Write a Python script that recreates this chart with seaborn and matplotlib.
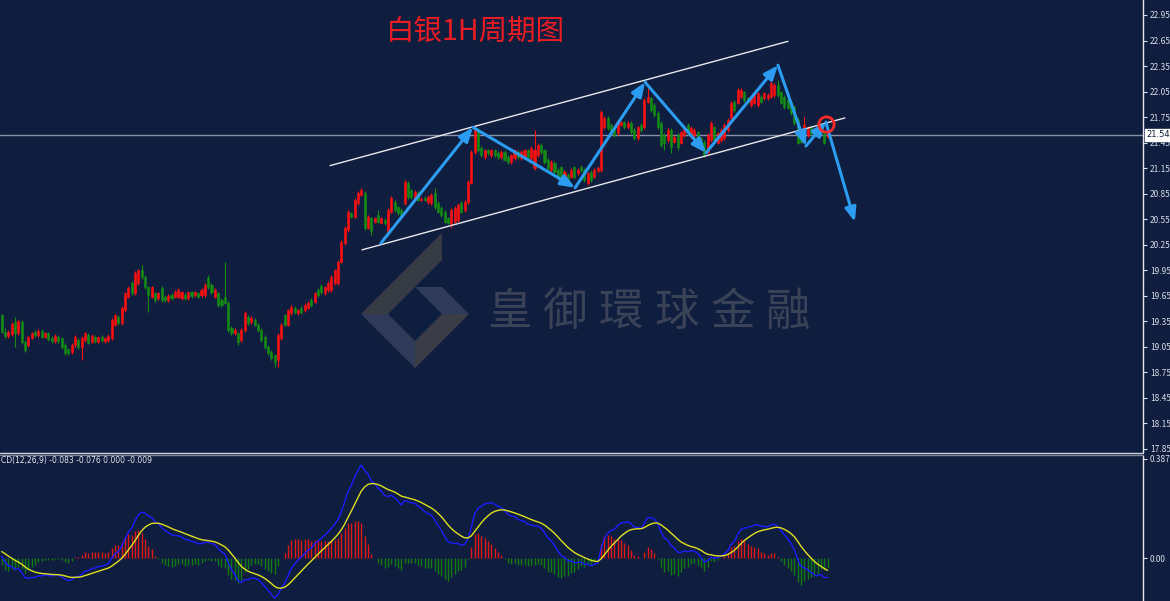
import numpy as np
import pandas as pd
import matplotlib
matplotlib.use("Agg")
import matplotlib.pyplot as plt
import seaborn as sns
from matplotlib.patches import Polygon
from matplotlib.lines import Line2D

# ---------------- data (silver, 1H candles) ----------------
opens = [
    19.42, 19.23, 19.18, 19.20, 19.34, 19.21, 19.34, 19.11, 19.07, 19.15,
    19.23, 19.19, 19.24, 19.17, 19.21, 19.15, 19.12, 19.17, 19.15, 19.07,
    19.02, 18.99, 19.07, 19.13, 19.05, 19.13, 19.19, 19.11, 19.17, 19.11,
    19.17, 19.12, 19.13, 19.15, 19.31, 19.40, 19.33, 19.48, 19.64, 19.80,
    19.68, 19.80, 19.95, 19.87, 19.75, 19.64, 19.68, 19.62, 19.74, 19.64,
    19.60, 19.66, 19.64, 19.64, 19.62, 19.66, 19.62, 19.69, 19.66, 19.68,
    19.66, 19.66, 19.86, 19.78, 19.64, 19.68, 19.60, 19.64, 19.57, 19.27,
    19.21, 19.21, 19.13, 19.25, 19.40, 19.34, 19.37, 19.31, 19.25, 19.17,
    19.05, 18.99, 18.95, 18.90, 19.15, 19.42, 19.31, 19.45, 19.51, 19.45,
    19.51, 19.48, 19.51, 19.60, 19.58, 19.72, 19.77, 19.68, 19.72, 19.72,
    19.80, 19.80, 20.05, 20.27, 20.42, 20.62, 20.58, 20.74, 20.84, 20.86,
    20.45, 20.56, 20.52, 20.60, 20.51, 20.54, 20.39, 20.64, 20.75, 20.69,
    20.66, 20.74, 20.98, 20.89, 20.80, 20.86, 20.78, 20.80, 20.75, 20.74,
    20.86, 20.74, 20.68, 20.64, 20.56, 20.48, 20.52, 20.54, 20.74, 20.66,
    20.75, 20.98, 21.34, 21.60, 21.39, 21.28, 21.36, 21.30, 21.36, 21.33,
    21.28, 21.34, 21.28, 21.22, 21.27, 21.34, 21.27, 21.28, 21.36, 21.27,
    21.15, 21.30, 21.42, 21.36, 21.25, 21.13, 21.21, 21.13, 21.16, 21.01,
    21.07, 21.05, 21.16, 21.09, 21.16, 21.13, 20.98, 21.11, 21.05, 21.12,
    21.13, 21.63, 21.74, 21.66, 21.62, 21.56, 21.66, 21.69, 21.63, 21.68,
    21.60, 21.50, 21.66, 21.63, 21.93, 21.97, 21.89, 21.80, 21.68, 21.54,
    21.48, 21.60, 21.46, 21.54, 21.45, 21.54, 21.66, 21.52, 21.54, 21.57,
    21.50, 21.46, 21.34, 21.48, 21.63, 21.45, 21.48, 21.50, 21.60, 21.74,
    21.93, 21.92, 21.99, 22.04, 21.97, 21.89, 21.92, 21.89, 21.99, 21.97,
    21.97, 21.99, 22.01, 22.13, 22.04, 21.99, 21.95, 21.93, 21.87, 21.72,
    21.56, 21.48, 21.54, 21.62, 21.60, 21.62, 21.57, 21.57, 21.52,
]
closes = [
    19.23, 19.18, 19.23, 19.32, 19.21, 19.35, 19.11, 19.01, 19.17, 19.21,
    19.19, 19.24, 19.17, 19.21, 19.14, 19.12, 19.18, 19.12, 19.05, 18.98,
    18.98, 19.07, 19.17, 19.05, 19.15, 19.21, 19.10, 19.18, 19.12, 19.17,
    19.13, 19.15, 19.18, 19.37, 19.42, 19.33, 19.51, 19.68, 19.74, 19.68,
    19.92, 19.95, 19.87, 19.75, 19.66, 19.75, 19.60, 19.68, 19.60, 19.60,
    19.65, 19.62, 19.69, 19.72, 19.69, 19.62, 19.69, 19.65, 19.69, 19.64,
    19.72, 19.78, 19.75, 19.69, 19.72, 19.54, 19.54, 19.57, 19.25, 19.21,
    19.25, 19.11, 19.25, 19.45, 19.33, 19.39, 19.31, 19.25, 19.13, 19.05,
    18.98, 18.92, 18.87, 19.19, 19.31, 19.31, 19.48, 19.52, 19.46, 19.48,
    19.46, 19.54, 19.57, 19.54, 19.68, 19.66, 19.69, 19.75, 19.80, 19.87,
    19.95, 20.05, 20.28, 20.45, 20.64, 20.58, 20.78, 20.86, 20.89, 20.45,
    20.58, 20.41, 20.56, 20.52, 20.56, 20.51, 20.66, 20.80, 20.66, 20.62,
    20.60, 20.99, 20.81, 20.81, 20.87, 20.78, 20.79, 20.78, 20.81, 20.84,
    20.69, 20.64, 20.60, 20.52, 20.51, 20.66, 20.68, 20.72, 20.64, 20.75,
    20.99, 21.34, 21.62, 21.36, 21.30, 21.36, 21.33, 21.36, 21.30, 21.28,
    21.34, 21.25, 21.22, 21.30, 21.36, 21.28, 21.34, 21.36, 21.28, 21.39,
    21.36, 21.42, 21.34, 21.22, 21.15, 21.22, 21.11, 21.03, 21.01, 21.11,
    21.01, 21.13, 21.05, 21.13, 21.13, 21.01, 21.09, 21.01, 21.13, 21.15,
    21.81, 21.74, 21.62, 21.57, 21.54, 21.69, 21.69, 21.63, 21.68, 21.57,
    21.50, 21.63, 21.60, 21.95, 21.99, 21.83, 21.77, 21.63, 21.42, 21.45,
    21.60, 21.40, 21.52, 21.40, 21.57, 21.63, 21.56, 21.62, 21.60, 21.48,
    21.40, 21.30, 21.54, 21.68, 21.48, 21.56, 21.60, 21.66, 21.72, 21.92,
    21.83, 22.07, 22.07, 21.95, 21.93, 21.99, 22.03, 22.03, 21.93, 22.03,
    22.01, 22.15, 22.13, 22.01, 21.92, 21.87, 21.86, 21.80, 21.68, 21.45,
    21.46, 21.66, 21.62, 21.56, 21.54, 21.56, 21.66, 21.45, 21.56,
]
highs = [
    19.44, 19.27, 19.25, 19.34, 19.40, 19.37, 19.36, 19.13, 19.18, 19.23,
    19.25, 19.26, 19.26, 19.23, 19.23, 19.18, 19.20, 19.19, 19.17, 19.09,
    19.04, 19.09, 19.19, 19.15, 19.18, 19.23, 19.21, 19.20, 19.19, 19.18,
    19.19, 19.17, 19.20, 19.39, 19.44, 19.42, 19.53, 19.70, 19.76, 19.82,
    19.94, 19.97, 20.01, 19.89, 19.77, 19.77, 19.70, 19.70, 19.76, 19.66,
    19.67, 19.68, 19.72, 19.74, 19.71, 19.68, 19.71, 19.71, 19.71, 19.70,
    19.74, 19.80, 19.90, 19.80, 19.74, 19.70, 19.62, 20.05, 19.59, 19.29,
    19.27, 19.23, 19.27, 19.47, 19.42, 19.41, 19.39, 19.33, 19.27, 19.19,
    19.07, 19.01, 18.97, 19.21, 19.33, 19.44, 19.50, 19.54, 19.53, 19.50,
    19.53, 19.56, 19.59, 19.62, 19.70, 19.74, 19.79, 19.77, 19.82, 19.89,
    19.97, 20.07, 20.30, 20.47, 20.66, 20.64, 20.80, 20.88, 20.92, 20.88,
    20.60, 20.58, 20.58, 20.66, 20.58, 20.56, 20.68, 20.82, 20.78, 20.71,
    20.68, 21.01, 21.00, 20.91, 20.89, 20.88, 20.81, 20.82, 20.83, 20.86,
    20.92, 20.76, 20.70, 20.66, 20.58, 20.68, 20.70, 20.74, 20.76, 20.77,
    21.01, 21.36, 21.66, 21.62, 21.41, 21.38, 21.38, 21.38, 21.38, 21.35,
    21.36, 21.36, 21.30, 21.32, 21.38, 21.36, 21.36, 21.38, 21.38, 21.41,
    21.60, 21.44, 21.44, 21.38, 21.27, 21.24, 21.23, 21.15, 21.18, 21.13,
    21.09, 21.15, 21.18, 21.15, 21.19, 21.15, 21.11, 21.13, 21.15, 21.17,
    21.83, 21.76, 21.76, 21.68, 21.64, 21.71, 21.71, 21.71, 21.70, 21.70,
    21.62, 21.65, 21.68, 21.97, 22.09, 21.99, 21.91, 21.82, 21.70, 21.56,
    21.62, 21.62, 21.54, 21.56, 21.59, 21.65, 21.68, 21.64, 21.62, 21.59,
    21.52, 21.48, 21.56, 21.70, 21.65, 21.58, 21.62, 21.68, 21.74, 21.94,
    21.95, 22.09, 22.09, 22.06, 21.99, 22.01, 22.05, 22.05, 22.01, 22.05,
    22.03, 22.17, 22.15, 22.19, 22.06, 22.01, 21.97, 21.95, 21.89, 21.74,
    21.58, 21.75, 21.64, 21.64, 21.62, 21.64, 21.68, 21.59, 21.58,
]
lows = [
    19.21, 19.15, 19.16, 19.18, 19.05, 19.19, 19.08, 18.99, 19.05, 19.14,
    19.17, 19.17, 19.15, 19.15, 19.12, 19.10, 19.10, 19.10, 19.03, 18.96,
    18.95, 18.97, 19.05, 19.03, 18.90, 19.11, 19.08, 19.09, 19.10, 19.09,
    19.11, 19.10, 19.11, 19.13, 19.29, 19.31, 19.31, 19.46, 19.62, 19.66,
    19.66, 19.78, 19.85, 19.73, 19.46, 19.62, 19.58, 19.60, 19.58, 19.58,
    19.58, 19.60, 19.62, 19.62, 19.60, 19.60, 19.60, 19.63, 19.64, 19.62,
    19.64, 19.64, 19.73, 19.67, 19.62, 19.52, 19.52, 19.55, 19.23, 19.19,
    19.19, 19.07, 19.11, 19.23, 19.31, 19.32, 19.29, 19.23, 19.11, 19.03,
    18.96, 18.90, 18.81, 18.81, 19.13, 19.29, 19.29, 19.43, 19.44, 19.43,
    19.44, 19.46, 19.49, 19.52, 19.56, 19.64, 19.67, 19.66, 19.70, 19.70,
    19.78, 19.78, 20.03, 20.25, 20.40, 20.56, 20.56, 20.72, 20.82, 20.42,
    20.43, 20.36, 20.50, 20.50, 20.49, 20.48, 20.36, 20.62, 20.64, 20.60,
    20.58, 20.72, 20.79, 20.79, 20.78, 20.76, 20.76, 20.76, 20.73, 20.72,
    20.67, 20.62, 20.58, 20.50, 20.49, 20.45, 20.50, 20.52, 20.62, 20.64,
    20.73, 20.96, 21.32, 21.34, 21.28, 21.26, 21.31, 21.28, 21.28, 21.26,
    21.26, 21.23, 21.20, 21.20, 21.25, 21.26, 21.25, 21.26, 21.26, 21.25,
    21.13, 21.28, 21.32, 21.20, 21.13, 21.11, 21.09, 21.01, 20.99, 20.99,
    20.99, 21.03, 21.03, 21.07, 21.11, 20.99, 20.95, 20.99, 21.03, 21.10,
    21.11, 21.61, 21.60, 21.55, 21.52, 21.54, 21.64, 21.61, 21.61, 21.55,
    21.48, 21.48, 21.58, 21.61, 21.91, 21.81, 21.75, 21.61, 21.40, 21.36,
    21.46, 21.33, 21.44, 21.36, 21.43, 21.52, 21.54, 21.50, 21.52, 21.46,
    21.38, 21.28, 21.32, 21.46, 21.46, 21.43, 21.46, 21.48, 21.58, 21.72,
    21.81, 21.90, 21.97, 21.93, 21.91, 21.87, 21.90, 21.87, 21.91, 21.95,
    21.95, 21.97, 21.99, 21.99, 21.90, 21.85, 21.84, 21.78, 21.66, 21.43,
    21.44, 21.46, 21.52, 21.54, 21.52, 21.54, 21.55, 21.43, 21.50,
]

price_ticks = [17.85, 18.15, 18.45, 18.75, 19.05, 19.35, 19.65, 19.95, 20.25,
               20.55, 20.85, 21.15, 21.45, 21.75, 22.05, 22.35, 22.65, 22.95]
macd_ticks = [0.387, 0.0]
macd_tick_labels = ["0.387", "0.00"]
current_price = 21.54
title_text = "白银1H周期图"
macd_label = "CD(12,26,9) -0.083 -0.076 0.000 -0.009"
watermark = "皇御環球金融"

# MACD warm-up state carried in from before the visible window
ema12_seed = 19.50
ema26_seed = 19.47
signal_seed = 0.03

# analyst drawings (bar index, price)
channel_upper = [(98.6, 21.18), (236.1, 22.64)]
channel_lower = [(108.2, 20.19), (253.2, 21.74)]
wave_path = [(113.9, 20.27), (141.5, 21.63), (172.2, 20.92), (193.2, 22.16),
             (211.5, 21.33), (233.1, 22.36), (241.5, 21.41), (247.5, 21.69),
             (256.2, 20.52)]
circle_point = (247.5, 21.67)

# ---------------- derived indicator ----------------
df = pd.DataFrame({"open": opens, "close": closes, "high": highs, "low": lows})
df["bar"] = np.arange(len(df))
ema12 = pd.Series([ema12_seed] + closes).ewm(span=12, adjust=False).mean().iloc[1:].to_numpy()
ema26 = pd.Series([ema26_seed] + closes).ewm(span=26, adjust=False).mean().iloc[1:].to_numpy()
df["macd"] = ema12 - ema26
df["signal"] = pd.Series([signal_seed] + list(df["macd"])).ewm(span=9, adjust=False).mean().iloc[1:].to_numpy()
df["hist"] = 1.35 * (df["macd"] - df["signal"])

# ---------------- style ----------------
BG = "#0f1e3e"
sns.set_theme(style="dark", rc={"axes.facecolor": BG, "figure.facecolor": BG})
plt.rcParams["font.family"] = ["Noto Sans CJK SC", "DejaVu Sans"]

W, H = 1170, 601
fig = plt.figure(figsize=(W / 100, H / 100), dpi=100)
fig.patch.set_facecolor(BG)

def fx(x):
    return x / W

def fy(y):
    return (H - y) / H

axis_x = 1143
ax = fig.add_axes([0, fy(452), fx(axis_x), (452) / H])
ax2 = fig.add_axes([0, 0, fx(axis_x), (H - 456) / H])

px_per_bar = 3.33
x0 = -1.7 / px_per_bar
x1 = (axis_x - 1.7) / px_per_bar
for a in (ax, ax2):
    a.set_facecolor(BG)
    a.set_xlim(x0, x1)
    a.grid(False)
    for s in ("top", "left", "bottom"):
        a.spines[s].set_visible(False)
    a.spines["right"].set_color("#e6e8ee")
    a.spines["right"].set_linewidth(1.0)
    a.set_xticks([])
    a.yaxis.tick_right()
    a.tick_params(axis="y", colors="#d9dde8", labelsize=6, length=3,
                  width=0.8, direction="out", pad=2, right=True, left=False)
    a.set_xlabel("")
    a.set_ylabel("")

ax.set_ylim(23.126 - 452 / 85.1, 23.126)
ax.set_yticks(price_ticks)
ax.set_yticklabels([f"{t:.2f}" for t in price_ticks])

# current price line
ax.axhline(current_price, color="#8790a6", lw=1.0, zorder=1)

# candles: red = up, green = down
up = df["close"] >= df["open"]
RED = "#ff1010"
GREEN = "#148c14"
colors = np.where(up, RED, GREEN)
ax.vlines(df["bar"], df["low"], df["high"], colors=colors, lw=0.8, zorder=3)
body_bottom = np.minimum(df["open"], df["close"])
body_h = np.abs(df["close"] - df["open"])
ax.bar(df["bar"], body_h, bottom=body_bottom, width=0.62, color=colors,
       edgecolor=colors, linewidth=0.4, zorder=4)

# channel lines
for seg in (channel_upper, channel_lower):
    ax.plot([seg[0][0], seg[1][0]], [seg[0][1], seg[1][1]], color="#e8e8ee",
            lw=1.0, zorder=5)

# wave arrows
BLUE = "#2b9cf2"
for (xa, ya), (xb, yb) in zip(wave_path[:-1], wave_path[1:]):
    ax.annotate("", xy=(xb, yb), xytext=(xa, ya),
                arrowprops=dict(arrowstyle="-|>,head_length=0.7,head_width=0.28",
                                color=BLUE, lw=2.2, shrinkA=0, shrinkB=0),
                zorder=6)

ax.plot([circle_point[0]], [circle_point[1]], marker="o", ms=11, mfc="none",
        mec="#ff2a2a", mew=2, zorder=7)

# price label box
ax.text(1.003, current_price, f"{current_price:.2f}", transform=ax.get_yaxis_transform(),
        fontsize=6, color="#0f1e3e", va="center", ha="left", family="DejaVu Sans",
        bbox=dict(boxstyle="square,pad=0.15", fc="white", ec="white"), zorder=10,
        clip_on=False)

# ---------------- MACD panel ----------------
ax2.set_ylim(-(H - 558) / 256.0, 0.387 + 3 / 256.0)
ax2.set_yticks(macd_ticks)
ax2.set_yticklabels(macd_tick_labels)
hcol = np.where(df["hist"] >= 0, "#e01818", "#137a13")
ax2.vlines(df["bar"], 0, df["hist"], colors=hcol, lw=1.0, zorder=2)
sns.lineplot(data=df, x="bar", y="macd", ax=ax2, color="#1c1cff", lw=1.0,
             zorder=3, legend=False)
sns.lineplot(data=df, x="bar", y="signal", ax=ax2, color="#e0e020", lw=1.0,
             zorder=4, legend=False)
ax2.set_xlabel("")
ax2.set_ylabel("")
ax2.set_xlim(x0, x1)

# separator lines between panels
fig.add_artist(Line2D([0, fx(axis_x)], [fy(452.5), fy(452.5)], color="#cfd3dc",
                      lw=1.0, transform=fig.transFigure))
fig.add_artist(Line2D([0, fx(axis_x)], [fy(455), fy(455)], color="#7e8596",
                      lw=1.0, transform=fig.transFigure))

fig.text(fx(1), fy(461), macd_label, fontsize=5.5, color="#e3e6ee",
         ha="left", va="center", family="DejaVu Sans")

# ---------------- title & watermark ----------------
fig.text(fx(475), fy(32), title_text, fontsize=20.5, color="#ec1c24",
         ha="center", va="center")

wm_centers = [509, 565, 621, 677, 733, 788]
for ch, cx in zip(watermark, wm_centers):
    fig.text(fx(cx), fy(312), ch, fontsize=32, color="#3a4257",
             ha="center", va="center", family=["Noto Sans CJK TC", "DejaVu Sans"],
             zorder=0)

def poly(pts, color):
    p = Polygon([(fx(x), fy(y)) for x, y in pts], closed=True, fc=color, ec="none",
                transform=fig.transFigure, zorder=0.5)
    fig.add_artist(p)

poly([(442, 233), (442, 260), (388, 314), (361, 314)], "#363a45")
poly([(361, 314), (388, 314), (415, 341), (415, 368)], "#2e3a57")
poly([(415, 368), (415, 341), (442, 314), (469, 314)], "#3a3d47")
poly([(415, 287), (442, 287), (469, 314), (442, 314)], "#2e3a57")

fig.savefig("out.png", dpi=100, facecolor=BG)
